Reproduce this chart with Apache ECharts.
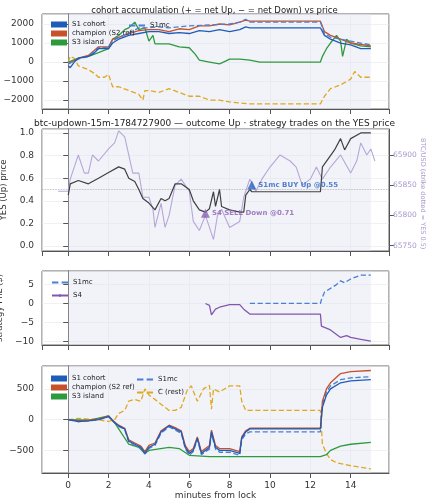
<!DOCTYPE html>
<html><head><meta charset="utf-8">
<script src="https://cdn.jsdelivr.net/npm/echarts@6/dist/echarts.min.js"></script>
<style>html,body{margin:0;padding:0;background:#fff}#c{width:429px;height:500px}</style>
</head><body><div id="c"></div>
<script>
// ---- panel 1: accumulated net YES shares ----
const accS1 = [[0,-200],[0.1,-300],[0.3,0],[0.5,200],[1,300],[1.2,400],[1.5,700],[2,700],[2.2,1000],[2.5,1200],[3,1400],[3.5,1500],[4,1600],[4.5,1600],[5,1500],[5.5,1550],[6,1500],[6.5,1650],[7,1600],[7.5,1700],[8,1600],[8.5,1700],[8.8,1850],[9,1800],[12.5,1800],[12.7,1400],[13,1200],[13.5,1000],[14,900],[14.5,700],[15,700]];
const accChamp = [[0,-100],[0.5,200],[1,350],[1.5,800],[2,800],[2.2,1200],[2.5,1300],[3,1500],[3.5,1650],[4,1700],[4.5,1700],[5,1600],[5.5,1750],[6,1700],[6.5,1900],[7,1900],[7.5,2000],[8,1950],[8.5,2100],[8.8,2200],[9,2150],[12.5,2150],[12.7,1600],[13,1400],[13.5,1200],[14,1000],[15,850]];
const accS1mc = [[0,-100],[0.5,150],[1,300],[1.5,750],[2,750],[2.2,1100],[2.5,1300],[3,1500],[3.5,1800],[4,1800],[4.5,1850],[5,1800],[6,1900],[7,1950],[8,2000],[8.5,2100],[8.8,2250],[9,2100],[12.5,2100],[12.7,1500],[13,1300],[14,1100],[15,900]];
const accS3 = [[0,0],[0.5,200],[1,300],[1.5,500],[2,700],[2.2,1200],[2.5,1400],[2.8,1700],[3,1800],[3.3,2100],[3.5,1700],[3.8,1800],[4,1100],[4.2,1400],[4.3,950],[5,950],[5.5,800],[6,750],[6.3,400],[6.5,100],[7,0],[7.5,-100],[7.8,50],[8,150],[8.5,150],[9,100],[9.5,0],[12.5,0],[12.6,300],[12.8,700],[13,1000],[13.3,1400],[13.5,1100],[13.6,300],[13.8,1200],[14,1000],[14.5,850],[15,800]];
const accC = [[0,0],[0.1,300],[0.3,200],[0.5,-200],[1,-400],[1.3,-600],[1.5,-800],[1.8,-800],[2,-650],[2.2,-1300],[2.5,-1300],[3,-1500],[3.5,-1700],[3.7,-2000],[3.8,-1500],[4,-1500],[4.5,-1600],[5,-1400],[5.5,-1600],[6,-1800],[6.5,-1800],[7,-2000],[7.5,-2000],[8,-2100],[9,-2200],[12.5,-2200],[12.7,-1800],[13,-1400],[13.5,-1200],[14,-900],[14.2,-500],[14.5,-800],[15,-800]];
// ---- panel 2: YES price and BTC ----
const yesPrice = [[0,0.45],[0.1,0.55],[0.5,0.58],[1,0.55],[1.5,0.6],[2,0.65],[2.5,0.7],[2.8,0.68],[3,0.6],[3.3,0.57],[3.5,0.5],[3.7,0.42],[4,0.38],[4.3,0.32],[4.6,0.42],[4.8,0.4],[5,0.42],[5.3,0.55],[5.6,0.55],[6,0.5],[6.2,0.4],[6.5,0.32],[6.8,0.3],[7,0.33],[7.2,0.48],[7.3,0.35],[7.5,0.5],[7.6,0.35],[8,0.32],[8.5,0.3],[8.7,0.3],[8.8,0.45],[9,0.5],[9.1,0.48],[12.5,0.48],[12.6,0.7],[13,0.8],[13.2,0.85],[13.5,0.95],[13.7,0.85],[14,0.95],[14.5,1.0],[15,1.0]];
const btc = [[-0.5,65840],[0,65840],[0.1,65860],[0.3,65880],[0.5,65900],[0.8,65870],[1,65870],[1.2,65900],[1.5,65890],[2,65910],[2.3,65920],[2.5,65940],[2.8,65930],[3,65900],[3.2,65870],[3.5,65870],[3.7,65830],[4,65830],[4.2,65810],[4.3,65780],[4.6,65820],[4.8,65780],[5,65800],[5.3,65850],[5.6,65860],[6,65840],[6.2,65790],[6.5,65775],[6.8,65800],[7,65780],[7.2,65760],[7.4,65800],[7.6,65810],[8,65780],[8.5,65790],[8.7,65830],[9,65860],[9.3,65840],[9.6,65860],[10,65880],[10.5,65900],[11,65890],[11.3,65880],[11.6,65850],[12,65860],[12.3,65880],[12.6,65860],[13,65880],[13.5,65900],[14,65870],[14.3,65890],[14.5,65920],[14.8,65900],[15,65910],[15.2,65890]];
const strike = [[-1.3,0.5],[15.9,0.5]];
const tradeS1mc = [[9.1,0.54]];
const tradeS4 = [[6.8,0.29]];
// ---- panel 3: strategy PnL ----
const pnlS1mc = [[9,0],[12.5,0],[12.55,1],[12.7,3],[13,4],[13.3,5],[13.5,6],[13.7,5.5],[14,6.5],[14.5,7.5],[15,7.5]];
const pnlS4 = [[6.8,0],[7,-0.5],[7.1,-3],[7.3,-1.5],[7.5,-1],[8,-0.3],[8.5,-0.3],[8.7,-1.5],[9,-2.8],[12.5,-2.8],[12.55,-6],[13,-7],[13.5,-9],[13.8,-8.5],[14,-9],[14.5,-9.5],[15,-10]];
// ---- panel 4: cohort moving PnL ----
const mpC = [[0,0],[0.5,20],[1,10],[1.5,0],[2,-30],[2.3,0],[2.5,100],[2.8,150],[3,300],[3.3,330],[3.6,300],[3.8,500],[4,400],[4.3,330],[4.6,250],[5,150],[5.3,150],[5.6,200],[5.9,480],[6.1,550],[6.4,300],[6.7,500],[7,560],[7.1,170],[7.2,500],[7.5,450],[8,550],[8.5,550],[8.6,300],[8.8,150],[9,150],[12.5,150],[12.6,-400],[12.8,-550],[13,-650],[13.3,-700],[14,-750],[15,-800]];
const mpS1 = [[0,0],[0.5,-30],[1,-20],[1.5,0],[2,50],[2.3,-50],[2.5,-100],[2.8,-150],[3,-350],[3.3,-400],[3.6,-450],[3.8,-550],[4,-450],[4.3,-400],[4.6,-200],[5,-100],[5.3,-150],[5.6,-200],[5.8,-450],[6,-550],[6.2,-500],[6.4,-300],[6.6,-550],[6.8,-500],[7,-450],[7.1,-200],[7.3,-450],[7.5,-500],[8,-500],[8.5,-550],[8.6,-300],[8.8,-200],[9,-150],[12.5,-150],[12.6,200],[12.8,400],[13,500],[13.5,600],[14,630],[15,650]];
const mpChamp = [[0,0],[0.5,-20],[1,-10],[1.5,10],[2,60],[2.3,-40],[2.5,-90],[2.8,-140],[3,-330],[3.3,-380],[3.6,-430],[3.8,-520],[4,-420],[4.3,-380],[4.6,-180],[5,-90],[5.3,-130],[5.6,-180],[5.8,-420],[6,-520],[6.2,-470],[6.4,-280],[6.6,-520],[6.8,-470],[7,-420],[7.1,-170],[7.3,-420],[7.5,-470],[8,-470],[8.5,-520],[8.6,-280],[8.8,-180],[9,-140],[12.5,-140],[12.6,300],[12.8,500],[13,600],[13.5,750],[14,780],[15,800]];
const mpS1mc = [[0,0],[0.5,-30],[1,-20],[1.5,0],[2,50],[2.3,-50],[2.5,-110],[2.8,-160],[3,-370],[3.3,-420],[3.6,-470],[3.8,-560],[4,-470],[4.3,-420],[4.6,-220],[5,-120],[5.3,-170],[5.6,-220],[5.8,-470],[6,-580],[6.2,-520],[6.4,-320],[6.6,-570],[6.8,-520],[7,-480],[7.1,-230],[7.3,-480],[7.5,-530],[8,-530],[8.5,-580],[8.6,-330],[8.8,-230],[9,-200],[12.5,-200],[12.6,250],[12.8,450],[13,550],[13.5,650],[14,680],[15,700]];
const mpS3 = [[0,0],[1,-10],[2,60],[2.3,-50],[2.5,-150],[3,-400],[3.5,-450],[3.8,-550],[4,-500],[5,-450],[5.5,-470],[6,-580],[7,-600],[8,-600],[12.5,-600],[12.8,-570],[13,-500],[13.5,-430],[14,-400],[15,-370]];

const FONT = 'DejaVu Sans';
const C = {s1:'#1f5cb8', mc:'#4a7fd4', ch:'#c8502a', s3:'#2e9a3e', c:'#e0a820', s4:'#8456b0', px:'#404040', btc:'#b8a6d6'};
const grids = [
  {left:42,right:40,top:14,height:95},
  {left:42,right:40,top:129,height:122},
  {left:42,right:40,top:271,height:74},
  {left:42,right:40,top:366,height:107}
];
const XMIN=-1.3, XMAX=15.9;
function xa(i){return {type:'value',gridIndex:i,min:XMIN,max:XMAX,splitNumber:8,
  axisLine:{show:true,onZero:false,lineStyle:{color:'#555'}},axisTick:{show:true,lineStyle:{color:'#555'}},
  axisLabel:{show:i===3,showMinLabel:false,showMaxLabel:false,fontFamily:FONT,fontSize:9,color:'#333'},
  splitLine:{show:true,lineStyle:{color:'#e8e8ee',width:0.6}},
  name:i===3?'minutes from lock':'',nameLocation:'middle',nameGap:16,nameTextStyle:{fontFamily:FONT,fontSize:9,color:'#333'}};}
function ya(i,min,max,split,name,extra){return Object.assign({type:'value',gridIndex:i,min:min,max:max,splitNumber:split,
  axisLine:{show:true,lineStyle:{color:'#555'}},axisTick:{show:true,lineStyle:{color:'#555'}},
  axisLabel:{showMinLabel:false,showMaxLabel:false,fontFamily:FONT,fontSize:9,color:'#333',formatter:v=>String(v).replace('-','−')},
  splitLine:{show:true,lineStyle:{color:'#e8e8ee',width:0.6}},
  name:name,nameLocation:'middle',nameGap:30,nameTextStyle:{fontFamily:FONT,fontSize:8.5,color:'#333'}},extra||{});}
const shade = {silent:true,itemStyle:{color:'rgba(225,229,242,0.45)'},data:[[{xAxis:0},{xAxis:15}]]};
function line(name,data,xi,yi,color,dashed,extra){return Object.assign({name:name,type:'line',data:data,xAxisIndex:xi,yAxisIndex:yi,
  showSymbol:false,symbol:'none',lineStyle:{color:color,width:1.3,type:dashed?'dashed':'solid'},itemStyle:{color:color},z:3},extra||{});}
const legTxt = {fontFamily:FONT,fontSize:7,color:'#222'};
const dashIcon = 'path://M0,0h6v2h-6zM9,0h6v2h-6z';
const option = {
  animation:false,
  title:[
    {text:'cohort accumulation (+ = net Up, − = net Down) vs price',left:'center',top:1,textStyle:{fontFamily:FONT,fontSize:8.5,fontWeight:'normal',color:'#222'}},
    {text:'btc-updown-15m-1784727900 — outcome Up · strategy trades on the YES price',left:'center',top:114,textStyle:{fontFamily:FONT,fontSize:9,fontWeight:'normal',color:'#222'}}
  ],
  graphic:[{type:'text',left:419,top:138,rotation:-Math.PI/2,
    style:{text:'BTC/USD (strike dotted = YES 0.5)',fill:'#a898cc',font:'6.5px "DejaVu Sans"'}}],
  grid:grids.map(g=>Object.assign({show:true,borderColor:'#666',borderWidth:1,backgroundColor:'#fff',containLabel:false,outerBoundsMode:'none'},g)),
  legend:[
    {data:['S1 cohort','champion (S2 ref)','S3 island'],orient:'vertical',left:46,top:16,itemWidth:16,itemHeight:6,itemGap:2,textStyle:legTxt,icon:'rect'},
    {data:[{name:'S1mc',icon:dashIcon}],orient:'vertical',left:124,top:17,itemWidth:16,itemHeight:3,textStyle:legTxt},
    {data:[{name:'S1mc',icon:dashIcon},'S4'],orient:'vertical',left:46,top:274,itemWidth:16,itemHeight:3,itemGap:6,textStyle:legTxt},
    {data:['S1 cohort','champion (S2 ref)','S3 island'],orient:'vertical',left:46,top:370,itemWidth:16,itemHeight:6,itemGap:2,textStyle:legTxt,icon:'rect'},
    {data:[{name:'S1mc',icon:dashIcon},{name:'C (rest)',icon:dashIcon}],orient:'vertical',left:132,top:371,itemWidth:16,itemHeight:3,itemGap:6,textStyle:legTxt}
  ],
  xAxis:[xa(0),xa(1),xa(2),xa(3)],
  yAxis:[
    ya(0,-2470,2526,5,'acc. net YES (shares)'),
    ya(1,-0.044,1.035,5,'YES (Up) price',{axisLabel:{showMinLabel:false,showMaxLabel:false,fontFamily:FONT,fontSize:9,color:'#333',formatter:v=>v.toFixed(1)}}),
    ya(2,-11,8.6,4,'strategy PnL ($)'),
    ya(3,-868,873,3,'cohort moving PnL ($)'),
    ya(1,65741,65943,4,'',{position:'right',splitLine:{show:false},
      axisLabel:{showMinLabel:false,showMaxLabel:false,margin:4,fontFamily:FONT,fontSize:7.5,color:'#a898cc',formatter:v=>String(v)}})
  ],
  series:[
    line('C (rest)',accC,0,0,C.c,true,{markArea:shade}),
    line('S3 island',accS3,0,0,C.s3,false),
    line('champion (S2 ref)',accChamp,0,0,C.ch,false),
    line('S1mc',accS1mc,0,0,C.mc,true),
    line('S1 cohort',accS1,0,0,C.s1,false),
    line('BTC',btc,1,4,C.btc,false,{markArea:shade,lineStyle:{color:C.btc,width:1.1}}),
    line('strike',strike,1,1,'#aaa',true,{lineStyle:{color:'#aaa',width:0.8,type:'dotted'}}),
    line('YES',yesPrice,1,1,C.px,false,{lineStyle:{color:C.px,width:1.2}}),
    {name:'tS1mc',type:'scatter',xAxisIndex:1,yAxisIndex:1,data:tradeS1mc,symbol:'triangle',symbolSize:9,itemStyle:{color:'#2a62c0'},z:5,
      label:{show:true,position:'right',distance:2,formatter:'S1mc BUY Up @0.55',fontFamily:FONT,fontSize:7,fontWeight:'bold',color:'#2a62c0'}},
    {name:'tS4',type:'scatter',xAxisIndex:1,yAxisIndex:1,data:tradeS4,symbol:'triangle',symbolSize:9,itemStyle:{color:'#8a60b4'},z:5,
      label:{show:true,position:'right',distance:2,formatter:'S4 SELL Down @0.71',fontFamily:FONT,fontSize:7,fontWeight:'bold',color:'#8a60b4'}},
    line('S1mc',pnlS1mc,2,2,C.mc,true,{markArea:shade}),
    line('S4',pnlS4,2,2,C.s4,false),
    line('C (rest)',mpC,3,3,C.c,true,{markArea:shade}),
    line('S3 island',mpS3,3,3,C.s3,false),
    line('S1mc',mpS1mc,3,3,C.mc,true),
    line('champion (S2 ref)',mpChamp,3,3,C.ch,false),
    line('S1 cohort',mpS1,3,3,C.s1,false)
  ]
};
echarts.init(document.getElementById('c'),null,{renderer:'canvas'}).setOption(option);
</script></body></html>
